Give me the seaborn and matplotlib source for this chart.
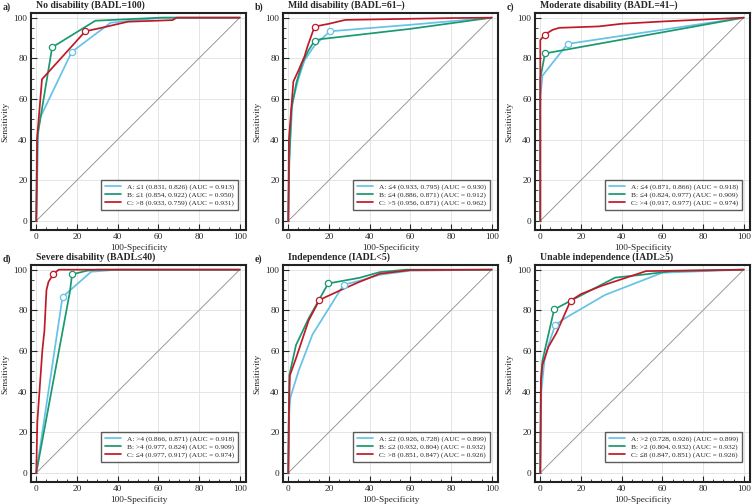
import seaborn as sns
import matplotlib.pyplot as plt
from matplotlib.ticker import MultipleLocator

# ---- data (x = 100-Specificity, y = Sensitivity, in %) ----
panels = ["a)", "b)", "c)", "d)", "e)", "f)"]
titles = ["No disability (BADL=100)", "Mild disability (BADL=61\u2013)",
          "Moderate disability (BADL=41\u2013)", "Severe disability (BADL\u226440)",
          "Independence (IADL<5)", "Unable independence (IADL\u22655)"]
series = ["A", "B", "C"]

# cut-off criterion, sensitivity, specificity, AUC per panel (A, B, C)
criteria = [["\u22641", "\u22641", ">8"], ["\u22644", "\u22644", ">5"],
            ["\u22644", "\u22644", ">4"], [">4", ">4", "\u22644"],
            ["\u22642", "\u22642", ">8"], [">2", ">2", "\u22648"]]
sens = [[0.831, 0.854, 0.933], [0.933, 0.886, 0.956], [0.871, 0.824, 0.917],
        [0.866, 0.977, 0.977], [0.926, 0.932, 0.851], [0.728, 0.804, 0.847]]
spec = [[0.826, 0.922, 0.759], [0.795, 0.871, 0.871], [0.866, 0.977, 0.977],
        [0.871, 0.824, 0.917], [0.728, 0.804, 0.847], [0.926, 0.932, 0.851]]
auc = [[0.913, 0.950, 0.931], [0.930, 0.912, 0.962], [0.918, 0.909, 0.974],
       [0.918, 0.909, 0.974], [0.899, 0.932, 0.926], [0.899, 0.932, 0.926]]

# ROC curve vertices
a_x_A = [0, 1, 2, 17.4, 36.5, 62, 100]
a_y_A = [0, 45, 51, 83.1, 97.5, 100, 100]
a_x_B = [0, 0.3, 7.8, 29, 61, 100]
a_y_B = [0, 40, 85.4, 98.5, 100, 100]
a_x_C = [0, 0.5, 2.8, 24.1, 32, 45, 67, 69, 100]
a_y_C = [0, 42, 69.7, 93.3, 95, 98, 98.8, 100, 100]

b_x_A = [0, 0.5, 2, 5, 8, 12, 14, 20.5, 60, 100]
b_y_A = [0, 30, 58, 70, 79, 85, 87.4, 93.3, 96.5, 100]
b_x_B = [0, 0.5, 1.5, 4, 7, 10, 12.9, 15.6, 60, 100]
b_y_B = [0, 30, 55, 68, 78, 84, 88.6, 89.4, 94.5, 100]
b_x_C = [0, 0.3, 2.5, 5, 8, 9.5, 12, 12.9, 20, 28, 80, 100]
b_y_C = [0, 40, 68.6, 74, 81, 86, 93, 95.6, 97, 98.9, 99.8, 100]

c_x_A = [0, 0, 1.1, 13.4, 100]
c_y_A = [0, 61, 71.5, 87.1, 100]
c_x_B = [0, 0, 2.3, 100]
c_y_B = [0, 70, 82.4, 100]
c_x_C = [0, 0, 2.3, 6, 9.3, 28.8, 40, 61.4, 100]
c_y_C = [0, 89, 91.7, 94, 95, 95.7, 97, 98.2, 100]

d_x_A = [0, 12.9, 27, 40, 100]
d_y_A = [0, 86.6, 99, 100, 100]
d_x_B = [0, 16.5, 17.6, 25, 30, 100]
d_y_B = [0, 89, 97.7, 99.5, 100, 100]
d_x_C = [0, 0.5, 3, 4, 5, 6, 8.3, 11, 100]
d_y_C = [0, 25, 60.5, 70, 90, 94, 97.7, 100, 100]

e_x_A = [0, 0.5, 1, 5, 11.9, 27.2, 35, 45, 60, 100]
e_y_A = [0, 30, 37, 50, 68.1, 92.6, 94.5, 97.5, 99.5, 100]
e_x_B = [0, 0.3, 0.5, 3.8, 10, 19.6, 35, 45, 58, 100]
e_y_B = [0, 35, 48, 62.9, 76, 93.2, 96, 98.8, 100, 100]
e_x_C = [0, 0.3, 0.8, 4, 10, 15.3, 27, 35, 45, 60, 100]
e_y_C = [0, 30, 48, 57, 75, 85.1, 90.5, 94, 98, 99.8, 100]

f_x_A = [0, 0.5, 2, 4, 7.4, 12, 31.9, 60, 100]
f_y_A = [0, 40, 55, 63, 72.8, 76, 87.6, 98.5, 100]
f_x_B = [0, 0.3, 1, 6.8, 15.5, 36.8, 50, 65, 100]
f_y_B = [0, 45, 55, 80.4, 85, 96.1, 97.5, 99.3, 100]
f_x_C = [0, 0.3, 1, 4, 8, 14.9, 20, 30, 52, 100]
f_y_C = [0, 45, 53, 62, 69, 84.7, 88, 92, 99.3, 100]

curves_x = [[a_x_A, a_x_B, a_x_C], [b_x_A, b_x_B, b_x_C], [c_x_A, c_x_B, c_x_C],
            [d_x_A, d_x_B, d_x_C], [e_x_A, e_x_B, e_x_C], [f_x_A, f_x_B, f_x_C]]
curves_y = [[a_y_A, a_y_B, a_y_C], [b_y_A, b_y_B, b_y_C], [c_y_A, c_y_B, c_y_C],
            [d_y_A, d_y_B, d_y_C], [e_y_A, e_y_B, e_y_C], [f_y_A, f_y_B, f_y_C]]

colors = ["#66C2E6", "#1A9870", "#C01A28"]

sns.set_style("ticks")
plt.rcParams['font.family'] = ['Liberation Serif', 'DejaVu Serif']

fig = plt.figure(figsize=(7.53, 5.04), dpi=100)
W, H = 753, 504
lefts = [31, 283, 535]
tops = [13, 265]
aw, ah = 215, 217

for i in range(6):
    r, c = divmod(i, 3)
    l, t = lefts[c], tops[r]
    ax = fig.add_axes([l / W, 1 - (t + ah) / H, aw / W, ah / H])

    ax.plot([0, 100], [0, 100], color="#8a8a8a", lw=0.6, zorder=1)
    for k in range(3):
        lbl = f"{series[k]}: {criteria[i][k]} ({sens[i][k]:.3f}, {spec[i][k]:.3f}) (AUC = {auc[i][k]:.3f})"
        sns.lineplot(x=curves_x[i][k], y=curves_y[i][k], ax=ax, sort=False,
                     estimator=None, color=colors[k], lw=1.25, label=lbl, zorder=3)
        ax.plot(100 - spec[i][k] * 100, sens[i][k] * 100, 'o', ms=4.5,
                mfc="white", mec=colors[k], mew=0.9, zorder=4)

    ax.set_xlim(-2.6, 103.1)
    ax.set_ylim(-4.5, 102.3)
    ax.xaxis.set_major_locator(MultipleLocator(20))
    ax.yaxis.set_major_locator(MultipleLocator(20))
    ax.xaxis.set_minor_locator(MultipleLocator(5))
    ax.yaxis.set_minor_locator(MultipleLocator(5))
    ax.grid(True, which="major", color="#e0e0e0", lw=0.6)
    ax.set_axisbelow(True)
    ax.tick_params(which="major", direction="in", length=4, width=0.8,
                   labelsize=6.7, pad=2.5)
    ax.tick_params(which="minor", direction="in", length=2, width=0.6)
    for sp in ax.spines.values():
        sp.set_linewidth(1.5)
        sp.set_color("#222222")
    ax.set_xlabel("100-Specificity", fontsize=6.7, labelpad=2)
    ax.set_ylabel("Sensitivity", fontsize=6.7, labelpad=3)

    leg = ax.legend(loc="lower right", fontsize=5.3, frameon=True, fancybox=False,
                    edgecolor="#333333", handlelength=2.2, borderpad=0.5,
                    labelspacing=0.2, bbox_to_anchor=(0.98, 0.075))
    leg.get_frame().set_linewidth(1.0)

    ax.text(0.025, 1.012, titles[i], transform=ax.transAxes, fontsize=7,
            fontweight="bold", ha="left", va="bottom")
    fig.text((l - 28) / W, 1 - (t - 6) / H, panels[i], fontsize=7,
             fontweight="bold", ha="left", va="center")

fig.savefig("out.png", dpi=100)
